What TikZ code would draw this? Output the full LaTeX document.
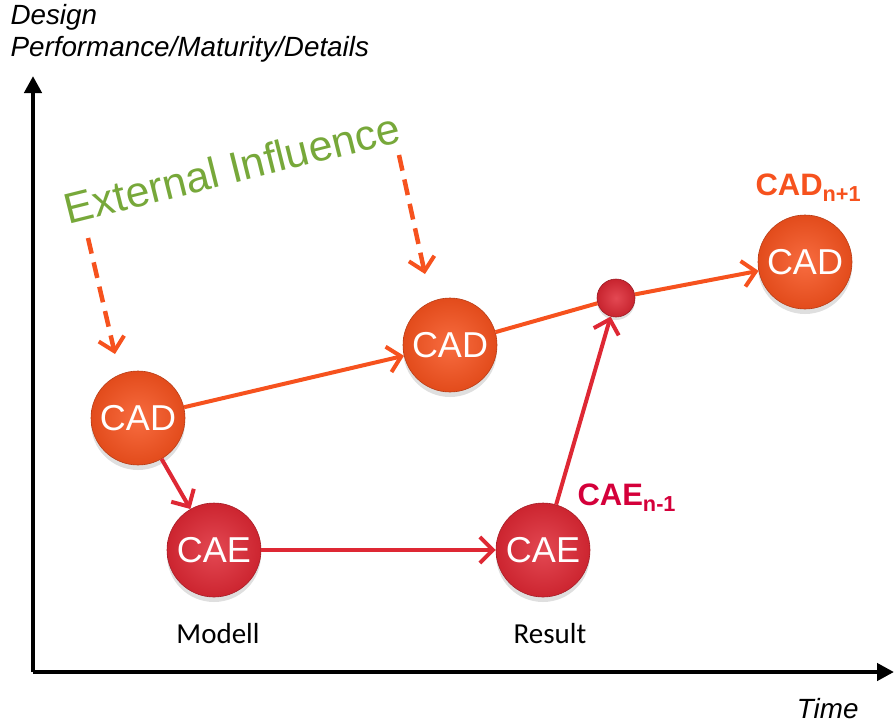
\documentclass[tikz,border=0pt]{standalone}
\usepackage{fontspec}
\setmainfont{Liberation Sans}
\newfontfamily\calibri{Carlito}
\usetikzlibrary{arrows.meta,shadows,positioning}

\definecolor{cadorange}{RGB}{246,82,30}
\definecolor{caered}{RGB}{222,40,52}
\definecolor{extgreen}{RGB}{119,168,58}
\definecolor{caelabel}{RGB}{212,0,58}

\tikzset{
  cadball/.style={circle, minimum size=94pt, inner sep=0pt,
    draw=cadorange!75!black, line width=0.6pt,
    shade, inner color=cadorange!85!white, outer color=cadorange!92!black,
    drop shadow={shadow xshift=0pt, shadow yshift=-5pt, opacity=0.25},
    text=white, font=\fontsize{36}{40}\selectfont},
  caeball/.style={cadball, draw=caered!75!black,
    inner color=caered!85!white, outer color=caered!92!black},
  joinball/.style={circle, minimum size=38pt, inner sep=0pt,
    draw=caered!70!black, line width=0.6pt,
    shade, inner color=caered!85!white, outer color=caered!90!black,
    drop shadow={shadow xshift=0pt, shadow yshift=-3pt, opacity=0.25}},
  cadline/.style={draw=cadorange, line width=4pt},
  caeline/.style={draw=caered, line width=4pt},
  tip/.style={-{Straight Barb[length=13pt,width=26pt,line width=4pt]}},
  extline/.style={cadline, line width=4.5pt, dash pattern=on 16pt off 9pt, tip},
  axis/.style={line width=4.5pt, -{Triangle[length=17pt,width=17pt]}}
}

\begin{document}
\begin{tikzpicture}[x=1pt,y=-1pt]
 \useasboundingbox (0,0) rectangle (896,724);

 % Axes
 \coordinate (o) at (33,672);
 \coordinate (ytop) at (33,76);
 \coordinate (xend) at (894,672);
 \draw[axis] (o) -- (ytop);
 \draw[axis] (o) -- (xend);
 \node[anchor=base west, font=\fontsize{27.8}{30}\selectfont\itshape]
     (ylab1) at (7,24) {Design};
 \node[anchor=base west, font=\fontsize{27.8}{30}\selectfont\itshape]
     (ylab2) at (7,56) {Performance/Maturity/Details};
 \node[anchor=base east, font=\fontsize{27.8}{30}\selectfont\itshape]
     (xlab) at (862,718) {Time};

 % The balls
 \node[cadball] (cad1) at (138,418) {CAD};
 \node[cadball] (cad2) at (450,345) {CAD};
 \node[cadball] (cad3) at (805,262) {CAD};
 \node[caeball] (cae1) at (214,550) {CAE};
 \node[caeball] (cae2) at (543,550) {CAE};
 \node[joinball] (join) at (616,298) {};

 % Labels
 \node[font=\calibri\fontsize{29}{32}\selectfont, anchor=base]
     (modell) at (218,643) {Modell};
 \node[font=\calibri\fontsize{29}{32}\selectfont, anchor=base]
     (result) at (550,643) {Result};
 \node[anchor=base west, text=cadorange, font=\fontsize{31}{34}\selectfont\bfseries]
     (cadnext) at (752,195) {CAD\textsubscript{n+1}};
 \node[anchor=base west, text=caelabel, font=\fontsize{31}{34}\selectfont\bfseries]
     (caeprev) at (574,505) {CAE\textsubscript{n-1}};
 \node[rotate=14, text=extgreen, font=\fontsize{43}{46}\selectfont]
     (ext) at (232,168) {External Influence};

 % Connections
 \draw[cadline, tip] (cad1) -- (cad2);
 \draw[cadline] (cad2) -- (join);
 \draw[cadline, tip] (join) -- (cad3);
 \draw[caeline, tip] (cad1) -- (cae1);
 \draw[caeline, tip] (cae1) -- (cae2);
 \draw[caeline, tip] (cae2) -- (join);

 % External influence
 \coordinate (ext1s) at (88,238);
 \coordinate (ext1e) at (115,354);
 \coordinate (ext2s) at (399,155);
 \coordinate (ext2e) at (425,274);
 \draw[extline] (ext1s) -- (ext1e);
 \draw[extline] (ext2s) -- (ext2e);
\end{tikzpicture}
\end{document}
